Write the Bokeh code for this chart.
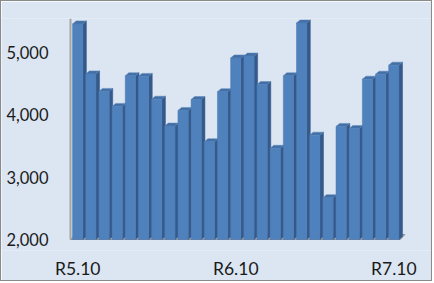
from bokeh.plotting import figure
from bokeh.models import FixedTicker, Range1d
from bokeh.core.properties import value
from bokeh.embed import file_html
from bokeh.resources import INLINE

# ---- data ----
tick_labels = ["R5.10", "R6.10", "R7.10"]
tick_index = [0, 12, 24]
values = [5450, 4650, 4370, 4130, 4620, 4610, 4245, 3815, 4065, 4240,
          3565, 4365, 4905, 4935, 4480, 3460, 4620, 5465, 3670, 2670,
          3810, 3775, 4565, 4645, 4790]
y_ticks = [2000, 3000, 4000, 5000]
y_tick_text = [f"{t:,}" for t in y_ticks]

# ---- style ----
BG = "#dce6f2"
FRONT = "#4f81bd"
SIDE = "#35598a"
TOP = "#4270a6"
FONT = "Lato"
TXT = "#1a1a1a"
base = 2000
PX_PER_Y = 1 / 16.0        # screen pixels per value unit
y_top = 5536
y_bottom = base - 11 / PX_PER_Y
w = 0.78
dx = 0.27
dy = 48

n = len(values)
xs = list(range(n))

PX_PER_X = 13.172          # screen pixels per category step
X_WALL = -0.547            # data x of the left wall
FRAME_W = 432 - 2
X0 = X_WALL - 69 / PX_PER_X
X1 = X0 + FRAME_W / PX_PER_X

p = figure(width=432, height=281,
           x_range=Range1d(X0, X1), y_range=Range1d(y_bottom, y_top),
           output_backend="svg", toolbar_location=None,
           min_border_left=0, min_border_right=2,
           min_border_top=17, min_border_bottom=32,
           background_fill_color=BG, border_fill_color=BG,
           outline_line_color=None,
           styles={"border": "1px solid #8a8a8a"})

# floor
x_end = n - 1 + w / 2 + 0.1
p.patch([X_WALL, x_end, x_end + 0.35, X_WALL + 0.35],
        [base, base, base + 80, base + 80],
        fill_color="#b4b4b4", line_color="#8f8f8f", line_width=1)

# back wall edge
p.segment(x0=[X_WALL], y0=[base], x1=[X_WALL], y1=[y_top],
          line_color="#a6a6a6", line_width=2)

# side faces and top faces
side_xs, side_ys, top_xs, top_ys = [], [], [], []
for i, v in zip(xs, values):
    x0 = i - w / 2
    x1 = i + w / 2
    side_xs.append([x1, x1, x1 + dx, x1 + dx])
    side_ys.append([base, v, v + dy, base + dy])
    top_xs.append([x0, x1, x1 + dx, x0 + dx])
    top_ys.append([v, v, v + dy, v + dy])

p.patches(side_xs, side_ys, fill_color=SIDE, line_color=SIDE, line_width=0.5)
p.patches(top_xs, top_ys, fill_color=TOP, line_color="#5c86bb", line_width=0.5)
p.vbar(x=xs, top=values, bottom=base, width=w,
       fill_color=FRONT, line_color="#4a7ab3", line_width=0.5)

# value labels of the y scale (right edge about 22 px left of the wall)
label_x = X_WALL - 22 / PX_PER_X
p.text(x=[label_x] * len(y_ticks), y=y_ticks, text=y_tick_text,
       text_align="right", text_baseline="middle",
       text_font=value(FONT), text_font_size=value("16.5px"),
       text_color=TXT)

# axes
p.xgrid.visible = False
p.ygrid.visible = False
p.yaxis.visible = False

p.xaxis.ticker = FixedTicker(ticks=tick_index)
p.xaxis.major_label_overrides = {k: s for k, s in zip(tick_index, tick_labels)}
p.xaxis.axis_line_color = None
p.xaxis.major_tick_line_color = None
p.xaxis.minor_tick_line_color = None
p.xaxis.major_tick_out = 0
p.xaxis.major_tick_in = 0
p.xaxis.minor_tick_out = 0
p.xaxis.minor_tick_in = 0
p.xaxis.major_label_standoff = 7
p.xaxis.major_label_text_font_size = "17.5px"
p.xaxis.major_label_text_font = FONT
p.xaxis.major_label_text_color = TXT

open("out.html", "w").write(file_html(p, INLINE))
